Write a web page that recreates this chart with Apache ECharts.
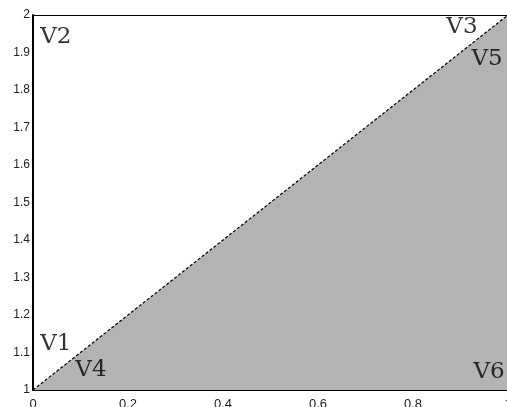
<!DOCTYPE html>
<html>
<head>
<meta charset="utf-8">
<script src="https://cdn.jsdelivr.net/npm/echarts@6/dist/echarts.min.js"></script>
<style>
  html, body { margin: 0; padding: 0; background: #fff; }
  #chart { width: 507px; height: 407px; }
</style>
</head>
<body>
<div id="chart"></div>
<script>
// boundary line of the shaded region (x, y)
var edgeX = [0, 1];
var edgeY = [1, 2];

// vertex labels and where they sit (data coords)
var vertexNames = ['V1', 'V2', 'V3', 'V4', 'V5', 'V6'];
var vertexX = [0.048, 0.048, 0.903, 0.122, 0.956, 0.960];
var vertexY = [1.123, 1.941, 1.968, 1.053, 1.883, 1.048];

var xTicks = [0, 0.2, 0.4, 0.6, 0.8, 1];
var yTicks = [1, 1.1, 1.2, 1.3, 1.4, 1.5, 1.6, 1.7, 1.8, 1.9, 2];

var chart = echarts.init(document.getElementById('chart'));

var edgeData = edgeX.map(function (x, i) { return [x, edgeY[i]]; });
var labelData = vertexNames.map(function (n, i) {
    return { name: n, value: [vertexX[i], vertexY[i]] };
});

chart.setOption({
    animation: false,
    grid: { left: 33, top: 15, width: 475, height: 375, show: false, outerBoundsMode: 'none', containLabel: false },
    xAxis: [{
        type: 'value',
        min: 0, max: 1, interval: 0.2,
        position: 'bottom',
        axisLine: { onZero: false, lineStyle: { color: '#000', width: 2 } },
        axisTick: { show: false },
        splitLine: { show: false },
        axisLabel: {
            margin: 8, color: '#222', fontSize: 13, fontFamily: 'Liberation Sans',
            formatter: function (v) { return xTicks.indexOf(v) >= 0 ? String(v) : ''; }
        }
    }, {
        type: 'value',
        min: 0, max: 1,
        position: 'top',
        axisLine: { onZero: false, lineStyle: { color: '#000', width: 1 } },
        axisTick: { show: false },
        axisLabel: { show: false },
        splitLine: { show: false }
    }],
    yAxis: {
        type: 'value',
        min: 1, max: 2, interval: 0.1,
        axisLine: { show: true, onZero: false, lineStyle: { color: '#000', width: 2 } },
        axisTick: { show: false },
        splitLine: { show: false },
        axisLabel: {
            margin: 3, color: '#222', fontSize: 12, fontFamily: 'Liberation Sans',
            formatter: function (v) {
                var r = Math.round(v * 10) / 10;
                return yTicks.indexOf(r) >= 0 ? String(r) : '';
            }
        }
    },
    series: [{
        type: 'line',
        data: edgeData,
        symbol: 'none',
        lineStyle: { color: '#000', width: 1.2, type: [3, 2] },
        areaStyle: { color: '#b3b3b3', opacity: 1, origin: 'start' },
        z: 2
    }, {
        type: 'scatter',
        data: labelData,
        symbolSize: 0,
        label: {
            show: true,
            position: 'inside',
            formatter: '{b}',
            color: '#000',
            fontSize: 23,
            fontFamily: 'DejaVu Serif'
        },
        z: 3
    }]
});
</script>
</body>
</html>
